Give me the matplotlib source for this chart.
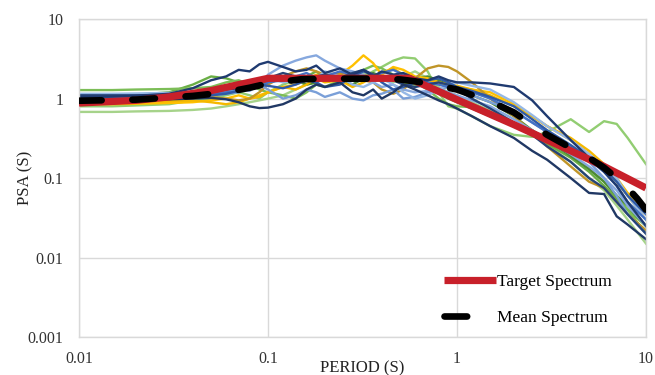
import numpy as np
import matplotlib
matplotlib.use('Agg')
import matplotlib.pyplot as plt
from matplotlib import ticker

plt.rcParams['font.family'] = ['Liberation Serif', 'DejaVu Serif']

# ============================================================
# DATA
# ============================================================
periods = [0.01, 0.015, 0.02, 0.03, 0.04, 0.05, 0.06, 0.07, 0.08, 0.09,
           0.10, 0.12, 0.14, 0.16, 0.18, 0.20, 0.24, 0.28, 0.32, 0.36,
           0.40, 0.46, 0.52, 0.60, 0.70, 0.80, 0.90, 1.0, 1.2, 1.5,
           2.0, 2.5, 3.0, 4.0, 5.0, 6.0, 7.0, 8.0, 10.0]

# individual ground-motion spectra
rec_navy_hi = [1.05, 1.06, 1.08, 1.15, 1.35, 1.7, 1.9, 2.3, 2.2, 2.7,
               2.9, 2.5, 2.2, 2.3, 2.6, 2.1, 2.4, 2.0, 2.3, 1.9,
               2.2, 2.0, 2.1, 1.8, 1.7, 1.9, 1.7, 1.6, 1.6, 1.55,
               1.4, 0.95, 0.6, 0.3, 0.18, 0.12, 0.08, 0.05, 0.025]
rec_navy_lo = [0.95, 0.96, 0.97, 0.98, 1.0, 1.02, 0.98, 0.9, 0.8, 0.76,
               0.77, 0.85, 1.0, 1.3, 1.5, 1.4, 1.6, 1.2, 1.1, 1.3,
               1.0, 1.2, 1.5, 1.3, 1.1, 0.95, 0.85, 0.75, 0.6, 0.45,
               0.32, 0.22, 0.17, 0.1, 0.065, 0.063, 0.033, 0.026, 0.017]
rec_navy_3 = [1.1, 1.1, 1.1, 1.12, 1.15, 1.2, 1.3, 1.35, 1.5, 1.6,
              1.8, 2.1, 1.9, 1.7, 1.9, 2.0, 1.8, 2.1, 2.3, 2.0,
              1.9, 1.7, 1.5, 1.4, 1.5, 1.6, 1.5, 1.3, 1.0, 0.75,
              0.5, 0.35, 0.25, 0.16, 0.1, 0.075, 0.05, 0.035, 0.02]
rec_ltblue_hi = [1.12, 1.12, 1.13, 1.15, 1.2, 1.3, 1.4, 1.3, 1.25, 1.5,
                 2.0, 2.6, 3.0, 3.3, 3.5, 3.0, 2.4, 2.2, 2.0, 1.6,
                 1.4, 1.5, 1.3, 1.2, 1.25, 1.35, 1.2, 1.1, 0.95, 0.8,
                 0.55, 0.4, 0.3, 0.2, 0.14, 0.1, 0.07, 0.045, 0.025]
rec_ltblue_lo = [0.9, 0.92, 0.95, 1.0, 1.05, 1.1, 1.15, 1.2, 1.4, 1.5,
                 1.3, 1.0, 1.1, 1.3, 1.2, 1.05, 1.2, 1.0, 0.95, 1.1,
                 1.15, 1.3, 1.0, 1.05, 1.2, 1.3, 1.4, 1.25, 1.1, 0.9,
                 0.7, 0.5, 0.38, 0.25, 0.16, 0.1, 0.06, 0.035, 0.02]
rec_ltblue_3 = [1.15, 1.15, 1.16, 1.18, 1.2, 1.2, 1.25, 1.3, 1.4, 1.6,
                1.8, 1.6, 1.7, 1.9, 1.8, 2.2, 1.9, 1.5, 1.4, 1.6,
                1.8, 1.5, 1.2, 1.0, 1.1, 1.3, 1.5, 1.6, 1.45, 1.3,
                0.9, 0.62, 0.45, 0.3, 0.2, 0.14, 0.1, 0.06, 0.03]
rec_blue = [1.05, 1.05, 1.06, 1.08, 1.1, 1.15, 1.2, 1.25, 1.3, 1.4,
            1.6, 1.7, 1.9, 2.1, 1.8, 1.9, 2.2, 2.0, 1.8, 1.9,
            2.1, 2.3, 2.0, 1.7, 1.6, 1.5, 1.4, 1.35, 1.2, 1.0,
            0.7, 0.5, 0.38, 0.24, 0.17, 0.12, 0.08, 0.05, 0.03]
rec_blue_2 = [0.97, 0.97, 0.98, 1.0, 1.05, 1.1, 1.15, 1.25, 1.35, 1.5,
              1.45, 1.35, 1.5, 1.7, 1.6, 1.4, 1.5, 1.9, 2.2, 2.0,
              1.6, 1.3, 1.4, 1.6, 1.7, 1.8, 1.6, 1.4, 1.25, 1.05,
              0.8, 0.55, 0.4, 0.26, 0.18, 0.13, 0.09, 0.06, 0.035]
rec_gold = [0.85, 0.85, 0.86, 0.88, 0.9, 0.95, 1.0, 1.1, 1.0, 1.1,
            1.2, 1.4, 1.5, 1.7, 2.0, 1.8, 2.0, 2.6, 3.5, 2.8,
            2.0, 2.5, 2.3, 1.9, 1.8, 1.6, 1.5, 1.4, 1.3, 1.2,
            0.85, 0.6, 0.45, 0.3, 0.2, 0.13, 0.09, 0.06, 0.03]
rec_gold_2 = [0.9, 0.9, 0.91, 0.93, 0.95, 0.9, 0.85, 0.9, 1.0, 1.05,
              1.2, 1.4, 1.3, 1.5, 1.8, 1.6, 1.7, 1.4, 1.6, 1.9,
              2.1, 2.4, 2.0, 1.8, 1.7, 1.6, 1.5, 1.45, 1.3, 1.1,
              0.8, 0.6, 0.45, 0.32, 0.22, 0.15, 0.1, 0.065, 0.04]
rec_dkgold = [1.0, 1.0, 1.02, 1.05, 1.1, 1.05, 1.0, 0.95, 1.0, 1.2,
              1.5, 1.9, 2.2, 2.4, 2.2, 2.0, 2.1, 2.0, 1.7, 1.6,
              1.3, 1.15, 1.3, 1.8, 2.4, 2.6, 2.5, 2.2, 1.6, 1.0,
              0.6, 0.38, 0.25, 0.14, 0.09, 0.075, 0.05, 0.035, 0.022]
rec_green = [1.1, 1.1, 1.12, 1.2, 1.5, 1.9, 1.8, 1.6, 1.5, 1.4,
             1.6, 1.8, 1.7, 1.9, 2.2, 1.8, 2.0, 1.7, 1.8, 2.0,
             1.7, 1.9, 1.6, 1.5, 1.4, 1.2, 1.0, 0.9, 0.75, 0.6,
             0.45, 0.35, 0.27, 0.18, 0.12, 0.08, 0.055, 0.04, 0.025]
rec_green_2 = [1.28, 1.28, 1.3, 1.32, 1.35, 1.4, 1.6, 1.7, 1.5, 1.3,
               1.2, 1.1, 1.0, 1.2, 1.5, 1.4, 1.7, 2.0, 2.3, 2.6,
               2.4, 2.0, 1.8, 1.6, 1.3, 1.0, 0.85, 0.8, 0.78, 0.65,
               0.5, 0.4, 0.3, 0.2, 0.13, 0.09, 0.06, 0.04, 0.02]
rec_dkgreen = [1.0, 1.0, 1.0, 1.02, 1.05, 1.1, 1.2, 1.3, 1.4, 1.5,
               1.6, 1.8, 1.7, 1.5, 1.6, 1.9, 1.7, 1.5, 1.8, 2.1,
               1.9, 1.7, 1.6, 1.8, 1.9, 1.7, 1.5, 1.3, 1.1, 0.9,
               0.6, 0.4, 0.3, 0.19, 0.13, 0.09, 0.06, 0.045, 0.025]
rec_ltgreen_hi = [0.8, 0.8, 0.82, 0.85, 0.95, 1.0, 1.1, 1.2, 1.1, 1.0,
                  1.2, 1.5, 1.7, 1.5, 1.6, 1.8, 2.0, 1.7, 1.9, 2.2,
                  2.5, 3.0, 3.3, 3.2, 2.2, 1.2, 0.8, 0.75, 0.6, 0.45,
                  0.35, 0.33, 0.38, 0.55, 0.38, 0.52, 0.48, 0.32, 0.15]
rec_ltgreen_lo = [0.68, 0.68, 0.69, 0.7, 0.72, 0.75, 0.8, 0.85, 0.9, 0.95,
                  1.0, 1.1, 1.3, 1.5, 1.7, 1.9, 1.6, 1.8, 2.1, 1.9,
                  1.7, 1.6, 1.9, 2.2, 1.8, 1.4, 1.2, 1.1, 0.9, 0.7,
                  0.5, 0.35, 0.26, 0.16, 0.1, 0.07, 0.045, 0.03, 0.015]

records = [rec_ltgreen_lo, rec_ltgreen_hi, rec_green, rec_green_2, rec_dkgreen,
           rec_gold, rec_gold_2, rec_dkgold, rec_ltblue_hi, rec_ltblue_lo,
           rec_ltblue_3, rec_blue, rec_blue_2, rec_navy_3, rec_navy_lo, rec_navy_hi]
rec_colors = ['#a6d38a', '#92cd72', '#6aae45', '#7cbd57', '#4e8a34',
              '#ffc000', '#f5b800', '#c09528', '#86a8de', '#7a9fd8',
              '#95b8e6', '#4472c4', '#2f5aa6', '#264478', '#203864', '#1f3a70']

# target spectrum
target_T = [0.01, 0.02, 0.03, 0.05, 0.07, 0.1, 0.56, 1.0, 2.0, 4.0, 6.0, 10.0]
target_sa = [0.88, 0.95, 1.05, 1.26, 1.5, 1.8, 1.8, 0.97, 0.47, 0.22, 0.14, 0.075]

# mean spectrum
mean_T = [0.01, 0.02, 0.04, 0.06, 0.08, 0.1, 0.15, 0.2, 0.3, 0.4, 0.5, 0.6,
          0.8, 1.0, 1.5, 2.0, 3.0, 4.0, 5.0, 6.0, 7.0, 8.0, 9.0, 10.0]
mean_sa = [0.94, 0.97, 1.08, 1.2, 1.37, 1.55, 1.75, 1.78, 1.78, 1.78, 1.74, 1.65,
           1.45, 1.3, 0.92, 0.67, 0.35, 0.24, 0.18, 0.135, 0.1, 0.075, 0.055, 0.04]

# ============================================================
# PLOT
# ============================================================
fig = plt.figure(figsize=(6.55, 3.75), dpi=100)
ax = fig.add_axes([0.1206, 0.1013, 0.8656, 0.8477])

for vals, col in zip(records, rec_colors):
    ax.plot(periods, vals, color=col, linewidth=1.7, solid_joinstyle='round', zorder=2)

ax.plot(target_T, target_sa, color='#c8202a', linewidth=5.2, solid_capstyle='butt',
        label='Target Spectrum', zorder=3)
ax.plot(mean_T, mean_sa, color='black', linewidth=4.8, dashes=(3.4, 4.6),
        dash_capstyle='round', label='Mean Spectrum', zorder=4)

ax.set_xscale('log')
ax.set_yscale('log')
ax.set_xlim(0.01, 10)
ax.set_ylim(0.001, 10)

fmt = ticker.FuncFormatter(lambda v, _: f'{v:g}')
ax.xaxis.set_major_locator(ticker.FixedLocator([0.01, 0.1, 1, 10]))
ax.yaxis.set_major_locator(ticker.FixedLocator([0.001, 0.01, 0.1, 1, 10]))
ax.xaxis.set_major_formatter(fmt)
ax.yaxis.set_major_formatter(fmt)
ax.xaxis.set_minor_locator(ticker.NullLocator())
ax.yaxis.set_minor_locator(ticker.NullLocator())
ax.tick_params(length=0, labelsize=11.5, colors='#333333')
ax.tick_params(axis='x', pad=10)
ax.tick_params(axis='y', pad=11)

ax.grid(True, color='#d9d9d9', linewidth=1.0)
ax.set_axisbelow(True)
for sp in ax.spines.values():
    sp.set_color('#d9d9d9')
    sp.set_linewidth(1.0)

ax.set_xlabel('PERIOD (S)', fontsize=12, color='#222222')
ax.xaxis.set_label_coords(0.5, -0.072)
ax.set_ylabel('PSA (S)', fontsize=12, color='#222222')
ax.yaxis.set_label_coords(-0.08, 0.5)

ax.legend(loc='lower right', bbox_to_anchor=(0.94, 0.035), frameon=False,
          fontsize=12.5, handlelength=3.0, handletextpad=0.05,
          labelspacing=1.15, borderpad=0, borderaxespad=0)

fig.savefig('out.png', dpi=100)
